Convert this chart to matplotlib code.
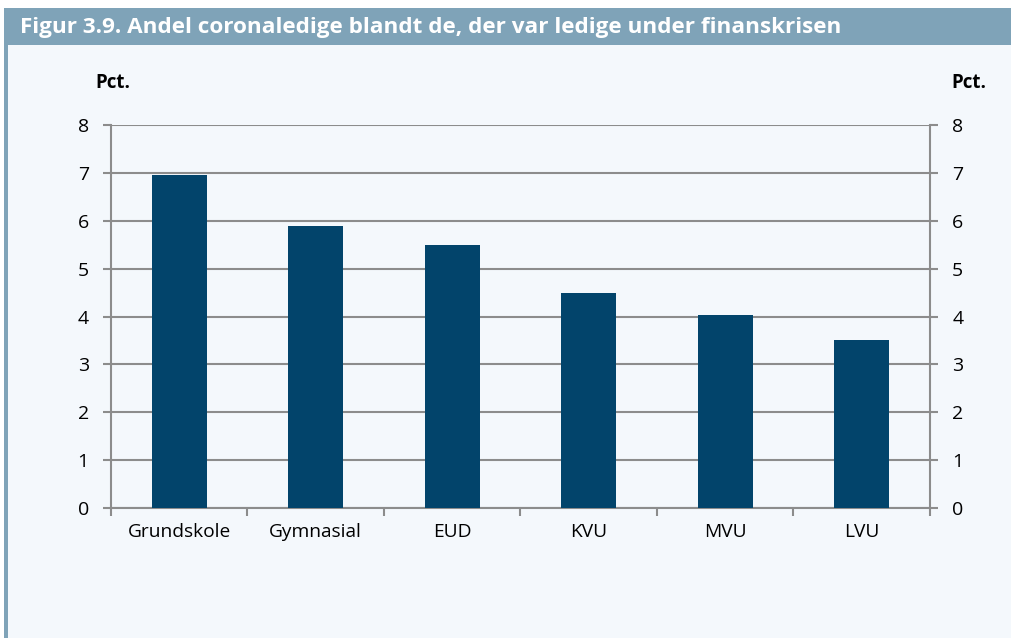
import numpy as np
import matplotlib.pyplot as plt
from matplotlib.patches import Rectangle

categories = ["Grundskole", "Gymnasial", "EUD", "KVU", "MVU", "LVU"]
values = [6.95, 5.9, 5.5, 4.5, 4.03, 3.5]
yticks = [0, 1, 2, 3, 4, 5, 6, 7, 8]

plt.rcParams['font.family'] = ['Open Sans', 'DejaVu Sans']

bg = '#f4f8fc'
bar_color = '#02446b'
head_color = '#7fa3b8'
grid_color = '#8c8c8c'

fig = plt.figure(figsize=(10.12, 6.38), dpi=100)
fig.patch.set_facecolor('white')

# panel background + left border + title bar
fig.add_artist(Rectangle((4 / 1012, 0), 1, 1 - 45 / 638, transform=fig.transFigure,
                         facecolor=bg, edgecolor='none', zorder=0))
fig.add_artist(Rectangle((4 / 1012, 0), 4 / 1012, 1 - 45 / 638, transform=fig.transFigure,
                         facecolor=head_color, edgecolor='none', zorder=1))
fig.add_artist(Rectangle((4 / 1012, 1 - 45 / 638), 1, 37 / 638, transform=fig.transFigure,
                         facecolor=head_color, edgecolor='none', zorder=1))
fig.text(20 / 1012, 1 - 28 / 638, "Figur 3.9. Andel coronaledige blandt de, der var ledige under finanskrisen",
         color='white', fontsize=16.2, fontweight='bold', va='center', ha='left')

ax = fig.add_axes([111 / 1012, 1 - 508 / 638, (930 - 111) / 1012, (508 - 125) / 638])
ax.set_facecolor(bg)
x = np.arange(len(categories))
ax.bar(x, values, width=0.4, color=bar_color, zorder=3)
ax.set_xlim(-0.5, len(categories) - 0.5)
ax.set_ylim(0, 8)
ax.set_yticks(yticks)
ax.yaxis.grid(True, color=grid_color, linewidth=1.5, zorder=0)
ax.set_axisbelow(True)

ax.set_xticks(np.arange(-0.5, len(categories), 1.0))
ax.set_xticklabels([])
ax.set_xticks(x, minor=True)
ax.set_xticklabels(categories, minor=True, fontsize=13.8)
ax.tick_params(axis='x', which='minor', length=0, pad=11)
ax.tick_params(axis='x', which='major', length=6, width=1.5, color=grid_color, direction='out')
ax.tick_params(axis='y', length=6, width=1.5, color=grid_color, labelsize=14, pad=10,
               left=True, right=True, labelleft=True, labelright=True)

for side in ['left', 'right', 'bottom']:
    ax.spines[side].set_color(grid_color)
    ax.spines[side].set_linewidth(1.5)
ax.spines['top'].set_visible(False)

fig.text(95 / 1012, 1 - 83 / 638, "Pct.", fontsize=13.5, fontweight='bold', ha='left', va='center')
fig.text(951 / 1012, 1 - 83 / 638, "Pct.", fontsize=13.5, fontweight='bold', ha='left', va='center')

fig.savefig("out.png", dpi=100, facecolor=fig.get_facecolor())
